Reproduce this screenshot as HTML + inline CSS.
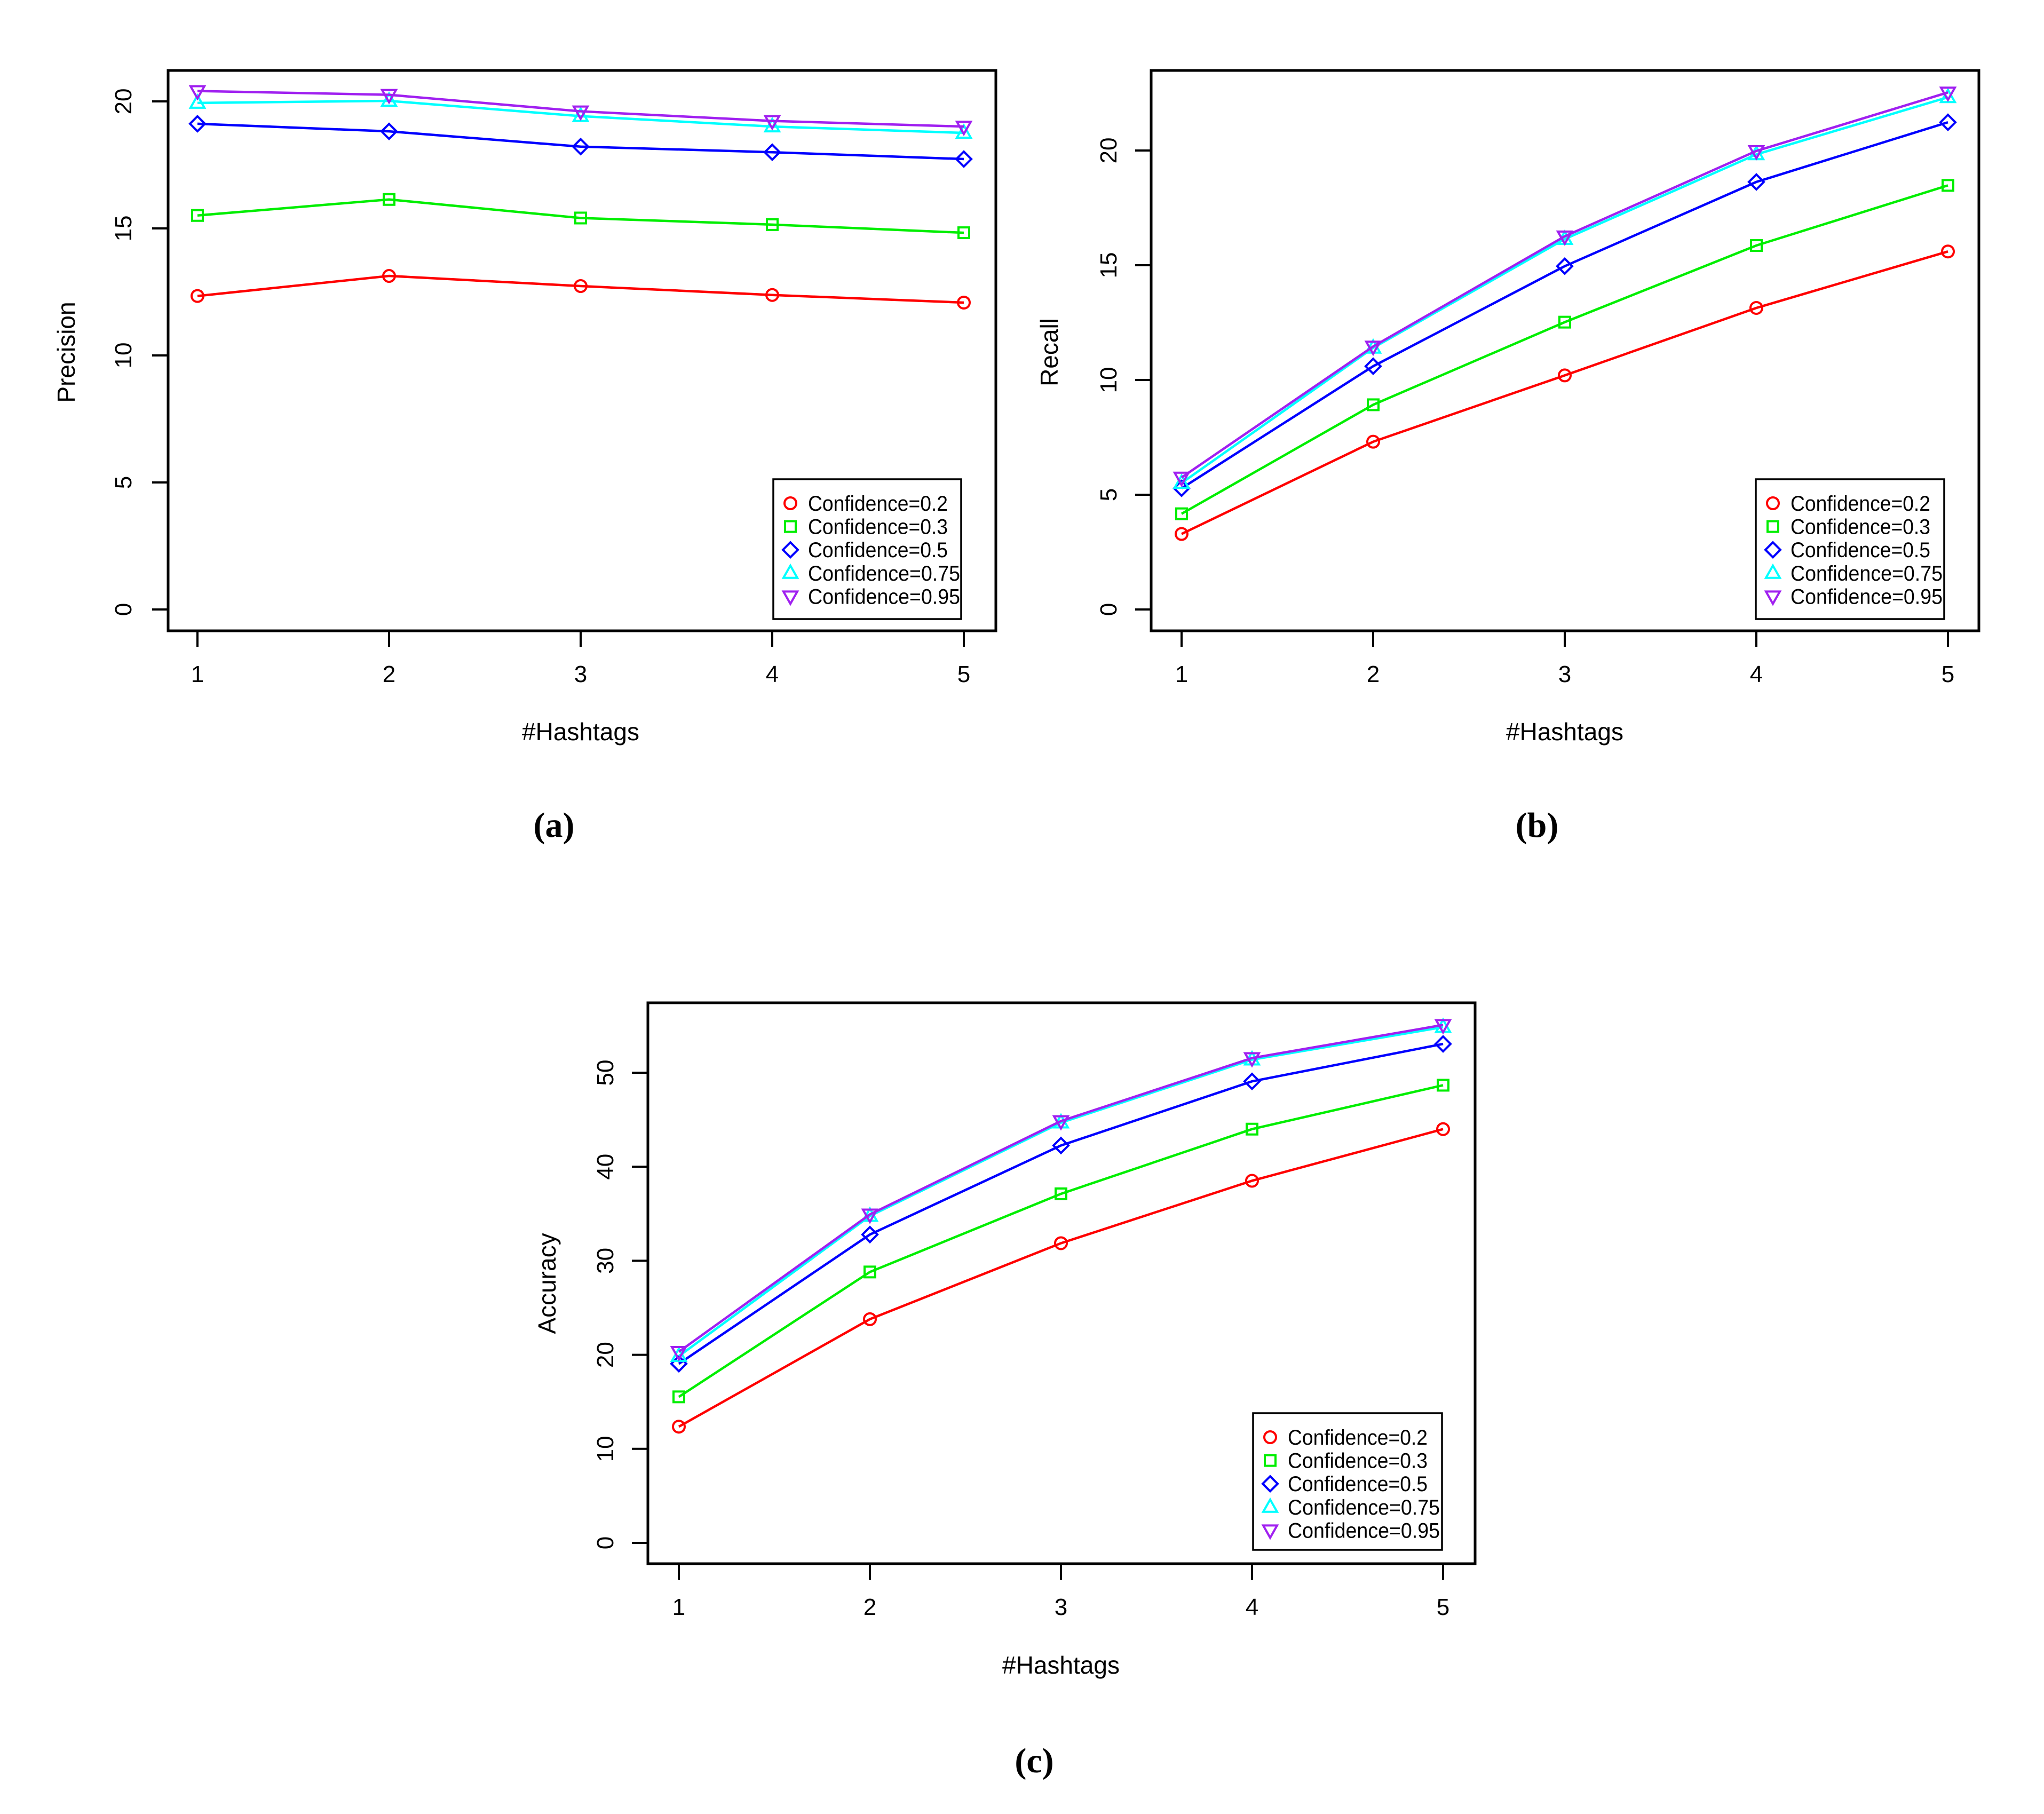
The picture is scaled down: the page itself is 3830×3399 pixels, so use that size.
<!DOCTYPE html>
<html><head><meta charset="utf-8"><style>
html,body{margin:0;padding:0;background:#fff;}
svg{display:block;}
</style></head><body>
<svg id="fig" width="3830" height="3399" viewBox="0 0 3830 3399" xmlns="http://www.w3.org/2000/svg" font-family="Liberation Sans, sans-serif"></svg>
<script>
const categories = [1, 2, 3, 4, 5];
const seriesNames = ["Confidence=0.2", "Confidence=0.3", "Confidence=0.5", "Confidence=0.75", "Confidence=0.95"];
const precisionRed = [12.34, 13.13, 12.73, 12.38, 12.08];
const precisionGreen = [15.51, 16.14, 15.41, 15.15, 14.83];
const precisionBlue = [19.12, 18.82, 18.22, 18.0, 17.73];
const precisionCyan = [19.94, 20.02, 19.42, 19.01, 18.76];
const precisionPurple = [20.41, 20.26, 19.61, 19.23, 19.01];
const recallRed = [3.29, 7.31, 10.2, 13.14, 15.6];
const recallGreen = [4.17, 8.92, 12.52, 15.86, 18.48];
const recallBlue = [5.28, 10.6, 14.96, 18.63, 21.23];
const recallCyan = [5.51, 11.4, 16.14, 19.83, 22.32];
const recallPurple = [5.75, 11.46, 16.26, 19.98, 22.53];
const accuracyRed = [12.36, 23.79, 31.87, 38.51, 44.0];
const accuracyGreen = [15.53, 28.81, 37.12, 44.0, 48.67];
const accuracyBlue = [19.05, 32.79, 42.26, 49.08, 53.06];
const accuracyCyan = [19.86, 34.76, 44.69, 51.39, 54.85];
const accuracyPurple = [20.32, 34.93, 44.86, 51.56, 55.08];
const precisionTicks = [0, 5, 10, 15, 20];
const recallTicks = [0, 5, 10, 15, 20];
const accuracyTicks = [0, 10, 20, 30, 40, 50];

const colors = ["#ff0000", "#00ee00", "#0000ff", "#00ffff", "#a020f0"];
const shapes = ["circle", "square", "diamond", "tri", "itri"];
const NS = "http://www.w3.org/2000/svg";
const svg = document.getElementById("fig");

function mk(tag, attrs, parent) {
  const e = document.createElementNS(NS, tag);
  for (const k in attrs) e.setAttribute(k, attrs[k]);
  (parent || svg).appendChild(e);
  return e;
}

function marker(g, shape, cx, cy, col) {
  const r = 11;
  let e;
  if (shape === "circle") e = mk("circle", {cx, cy, r: r, fill: "none", stroke: col, "stroke-width": 4}, g);
  else if (shape === "square") e = mk("rect", {x: cx - r + 1, y: cy - r + 1, width: 2 * r - 2, height: 2 * r - 2, fill: "none", stroke: col, "stroke-width": 4}, g);
  else if (shape === "diamond") e = mk("polygon", {points: `${cx},${cy - 14} ${cx + 14},${cy} ${cx},${cy + 14} ${cx - 14},${cy}`, fill: "none", stroke: col, "stroke-width": 4}, g);
  else if (shape === "tri") e = mk("polygon", {points: `${cx},${cy - 14} ${cx + 13},${cy + 9} ${cx - 13},${cy + 9}`, fill: "none", stroke: col, "stroke-width": 4}, g);
  else e = mk("polygon", {points: `${cx},${cy + 14} ${cx + 13},${cy - 9} ${cx - 13},${cy - 9}`, fill: "none", stroke: col, "stroke-width": 4}, g);
  return e;
}

function panel(p) {
  const g = mk("g", {});
  
  
  const xs = v => p.x1 + (v - categories[0]) * (p.x5 - p.x1) / (categories[categories.length - 1] - categories[0]);
  const ys = v => p.y0 - v * p.py;
  const box = mk("rect", {x: p.bx0, y: p.by0, width: p.bx1 - p.bx0, height: p.by1 - p.by0, fill: "none", stroke: "#000", "stroke-width": 5}, g);
  
  
  categories.forEach(c => {
    const t = mk("line", {x1: xs(c), x2: xs(c), y1: p.by1, y2: p.by1 + 30, stroke: "#000", "stroke-width": 4}, g);
    
    
    const tl = mk("text", {x: xs(c), y: p.xlabY, "font-size": 44, "text-anchor": "middle"}, g);
    tl.textContent = c;
    
    
  });
  p.ticks.forEach(v => {
    const t = mk("line", {x1: p.bx0 - 30, x2: p.bx0, y1: ys(v), y2: ys(v), stroke: "#000", "stroke-width": 4}, g);
    
    
    const tl = mk("text", {x: p.ylabX, y: ys(v), "font-size": 44, "text-anchor": "middle", transform: `rotate(-90 ${p.ylabX} ${ys(v)})`}, g);
    tl.textContent = v;
    
    
  });
  const xt = mk("text", {x: (p.x1 + p.x5) / 2, y: p.xtitleY, "font-size": 46, "text-anchor": "middle"}, g);
  xt.textContent = "#Hashtags";
  
  
  const yt = mk("text", {x: p.ytitleX, y: p.ytitleY, "font-size": 46, "text-anchor": "middle", transform: `rotate(-90 ${p.ytitleX} ${p.ytitleY})`}, g);
  yt.textContent = p.ytitle;
  
  
  p.series.forEach((vals, i) => {
    const sg = mk("g", {}, g);
    
    
    const pts = vals.map((v, j) => xs(categories[j]) + "," + ys(v)).join(" ");
    const pl = mk("polyline", {points: pts, fill: "none", stroke: colors[i], "stroke-width": 4.5}, sg);
    
    
    vals.forEach((v, j) => {
      const m = marker(sg, shapes[i], xs(categories[j]), ys(v), colors[i]);
      
      
    });
  });
  const lg = mk("g", {}, g);
  
  
  mk("rect", {x: p.lx0, y: p.ly0, width: p.lx1 - p.lx0, height: p.ly1 - p.ly0, fill: "#fff", stroke: "#000", "stroke-width": 3.5}, lg);
  seriesNames.forEach((n, i) => {
    const yy = p.ly0 + 45 + i * 43.6;
    const m = marker(lg, shapes[i], p.lx0 + 32, yy, colors[i]);
    
    
    const t = mk("text", {x: p.lx0 + 65, y: yy + 14, "font-size": 40, textLength: n.length === 14 ? 262 : 285, lengthAdjust: "spacingAndGlyphs"}, lg);
    t.textContent = n;
    
    
  });
  const cap = mk("text", {x: p.capX, y: p.capY, "font-size": 66, "text-anchor": "middle", style: "font-family:'Liberation Serif',serif;font-weight:bold"}, g);
  cap.textContent = p.cap;
  
  
}

panel({name: "precision-chart", bx0: 315, bx1: 1866, by0: 132, by1: 1182, x1: 370, x5: 1806, y0: 1142, py: 47.6,
  ticks: precisionTicks, series: [precisionRed, precisionGreen, precisionBlue, precisionCyan, precisionPurple],
  ylabX: 246, xlabY: 1278, xtitleY: 1387, ytitle: "Precision", ytitleX: 140, ytitleY: 660,
  lx0: 1449, lx1: 1801, ly0: 898, ly1: 1160, cap: "(a)", capX: 1038, capY: 1568});
panel({name: "recall-chart", bx0: 2157, bx1: 3708, by0: 132, by1: 1182, x1: 2214, x5: 3650, y0: 1142, py: 43.0,
  ticks: recallTicks, series: [recallRed, recallGreen, recallBlue, recallCyan, recallPurple],
  ylabX: 2092, xlabY: 1278, xtitleY: 1387, ytitle: "Recall", ytitleX: 1982, ytitleY: 660,
  lx0: 3290, lx1: 3643, ly0: 898, ly1: 1160, cap: "(b)", capX: 2880, capY: 1568});
panel({name: "accuracy-chart", bx0: 1214, bx1: 2764, by0: 1879, by1: 2930, x1: 1272, x5: 2704, y0: 2891, py: 17.62,
  ticks: accuracyTicks, series: [accuracyRed, accuracyGreen, accuracyBlue, accuracyCyan, accuracyPurple],
  ylabX: 1149, xlabY: 3026, xtitleY: 3136, ytitle: "Accuracy", ytitleX: 1041, ytitleY: 2405,
  lx0: 2348, lx1: 2702, ly0: 2648, ly1: 2904, cap: "(c)", capX: 1938, capY: 3321});
</script>
</body></html>
